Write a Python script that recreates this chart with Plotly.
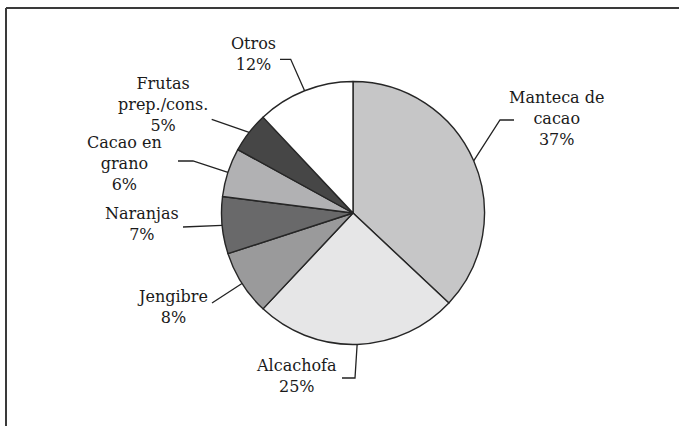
import math
import plotly.graph_objects as go

# ---- data ----
labels = ["Manteca de<br>cacao", "Alcachofa", "Jengibre", "Naranjas",
          "Cacao en<br>grano", "Frutas<br>prep./cons.", "Otros"]
values = [37, 25, 8, 7, 6, 5, 12]
colors = ["#c6c6c7", "#e6e6e7", "#9a9a9b", "#69696a", "#b1b1b3", "#464646", "#ffffff"]

# ---- layout constants (pixels) ----
W, H = 679, 426
CX, CY, R = 353, 213, 131.5

# label placement: text centre and leader polyline (after the arc point)
text_pos = [(556, 118), (296, 376), (172, 307), (142, 224), (124, 163), (163, 104), (253, 54)]
leader_pts = [
    [(500, 120), (514, 120)],
    [(355, 378), (342, 378)],
    [(212, 303)],
    [(183, 227)],
    [(193, 161), (178, 161)],
    [(211.7, 119.3)],
    [(290.7, 59.3), (280, 59.3)],
]

fig = go.Figure()
fig.add_trace(go.Pie(
    labels=labels, values=values, sort=False, direction="clockwise", rotation=0,
    marker=dict(colors=colors, line=dict(color="#262626", width=1.4)),
    textinfo="none", hoverinfo="label+percent", showlegend=False,
    domain=dict(x=[(CX - R) / W, (CX + R) / W], y=[1 - (CY + R) / H, 1 - (CY - R) / H]),
))

total = sum(values)
shapes = []
annotations = []
cum = 0
for lab, v, tp, pts in zip(labels, values, text_pos, leader_pts):
    mid = (cum + v / 2) / total * 2 * math.pi
    cum += v
    ax = CX + R * math.sin(mid)
    ay = CY - R * math.cos(mid)
    path = [(ax, ay)] + pts
    d = "M " + " L ".join(f"{x:.2f},{y:.2f}" for x, y in path)
    shapes.append(dict(type="path", path=d, xref="x", yref="y",
                       line=dict(color="#222222", width=1.3)))
    annotations.append(dict(x=tp[0], y=tp[1], xref="x", yref="y",
                            text=f"{lab}<br>{v}%", showarrow=False,
                            xanchor="center", yanchor="middle", align="center",
                            font=dict(family="DejaVu Serif", size=16, color="#1a1a1a")))

# frame (top and left edges)
shapes.append(dict(type="line", x0=6, y0=8, x1=W, y1=8, xref="x", yref="y",
                   line=dict(color="#3a3a3a", width=2)))
shapes.append(dict(type="line", x0=6, y0=8, x1=6, y1=H, xref="x", yref="y",
                   line=dict(color="#3a3a3a", width=2)))

fig.update_layout(
    width=W, height=H, margin=dict(l=0, r=0, t=0, b=0),
    paper_bgcolor="white", plot_bgcolor="rgba(0,0,0,0)",
    xaxis=dict(range=[0, W], visible=False, domain=[0, 1], fixedrange=True),
    yaxis=dict(range=[H, 0], visible=False, domain=[0, 1], fixedrange=True),
    shapes=shapes, annotations=annotations,
)

fig.write_html("out.html", config={"displayModeBar": False},
               post_script="document.body.style.margin='0';")
